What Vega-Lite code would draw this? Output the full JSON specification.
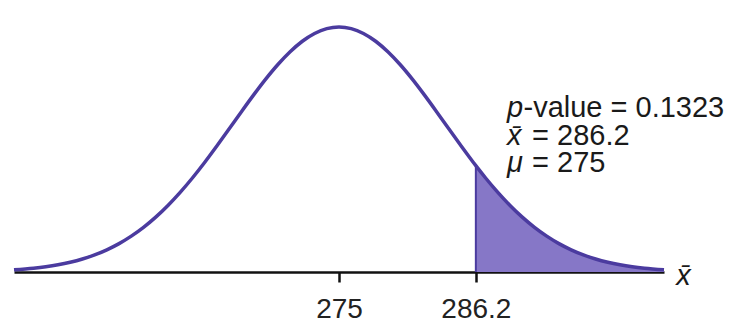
{
  "$schema": "https://vega.github.io/schema/vega-lite/v6.json",
  "width": 650,
  "height": 272,
  "autosize": {"type": "none"},
  "padding": {"left": 14, "top": 0, "right": 66, "bottom": 55},
  "background": "white",
  "config": {"view": {"stroke": null}, "font": "Liberation Sans"},
  "datasets": {
    "curve": [
      {"x": 248.4, "y": 0.00903}, {"x": 250, "y": 0.01566}, {"x": 251, "y": 0.02169}, {"x": 252, "y": 0.02964},
      {"x": 253, "y": 0.03997}, {"x": 254, "y": 0.05322}, {"x": 255, "y": 0.0699}, {"x": 256, "y": 0.0906},
      {"x": 257, "y": 0.1159}, {"x": 258, "y": 0.1463}, {"x": 259, "y": 0.1821}, {"x": 260, "y": 0.2238},
      {"x": 261, "y": 0.2715}, {"x": 262, "y": 0.325}, {"x": 263, "y": 0.3837}, {"x": 264, "y": 0.4471},
      {"x": 265, "y": 0.5143}, {"x": 266, "y": 0.5834}, {"x": 267, "y": 0.6533}, {"x": 268, "y": 0.7218},
      {"x": 269, "y": 0.7871}, {"x": 270, "y": 0.8468}, {"x": 271, "y": 0.899}, {"x": 272, "y": 0.9419},
      {"x": 273, "y": 0.9737}, {"x": 274, "y": 0.9934}, {"x": 275, "y": 1.0}, {"x": 276, "y": 0.9934},
      {"x": 277, "y": 0.9737}, {"x": 278, "y": 0.9419}, {"x": 279, "y": 0.899}, {"x": 280, "y": 0.8468},
      {"x": 281, "y": 0.7871}, {"x": 282, "y": 0.7218}, {"x": 283, "y": 0.6533}, {"x": 284, "y": 0.5834},
      {"x": 285, "y": 0.5143}, {"x": 286, "y": 0.4471}, {"x": 286.2, "y": 0.4341}, {"x": 287, "y": 0.3837},
      {"x": 288, "y": 0.325}, {"x": 289, "y": 0.2715}, {"x": 290, "y": 0.2238}, {"x": 291, "y": 0.1821},
      {"x": 292, "y": 0.1463}, {"x": 293, "y": 0.1159}, {"x": 294, "y": 0.0906}, {"x": 295, "y": 0.0699},
      {"x": 296, "y": 0.05322}, {"x": 297, "y": 0.03997}, {"x": 298, "y": 0.02964}, {"x": 299, "y": 0.02169},
      {"x": 300, "y": 0.01566}, {"x": 301.6, "y": 0.00903}
    ],
    "labels": [
      {"x": 288.75, "y": 0.633, "text": "p", "style": "italic"},
      {"x": 290.1, "y": 0.633, "text": "-value = 0.1323", "style": "normal"},
      {"x": 288.75, "y": 0.518, "text": "x̄", "style": "italic"},
      {"x": 290.8, "y": 0.518, "text": "= 286.2", "style": "normal"},
      {"x": 288.75, "y": 0.408, "text": "μ", "style": "italic"},
      {"x": 290.8, "y": 0.408, "text": "= 275", "style": "normal"},
      {"x": 302.6, "y": -0.053, "text": "x̄", "style": "italic"}
    ]
  },
  "layer": [
    {
      "data": {"name": "curve"},
      "transform": [{"filter": "datum.x >= 286.2"}],
      "mark": {"type": "area", "color": "#8677c7", "opacity": 1},
      "encoding": {
        "x": {"field": "x", "type": "quantitative", "scale": {"domain": [248.4, 301.6], "nice": false, "zero": false},
          "axis": {"values": [275, 286.2], "title": null, "grid": false, "domain": true, "domainColor": "#111", "domainWidth": 2.5,
            "tickColor": "#111", "tickWidth": 2.5, "tickSize": 10, "labelFontSize": 28, "labelColor": "#222", "labelPadding": 13,
            "labelFont": "Liberation Sans", "format": ".1~f"}},
        "y": {"field": "y", "type": "quantitative", "scale": {"domain": [0, 1.1102], "nice": false}, "axis": null}
      }
    },
    {
      "data": {"values": [{"x": 286.2, "y0": 0, "y": 0.4341}]},
      "mark": {"type": "rule", "color": "#4b3b9f", "strokeWidth": 2},
      "encoding": {
        "x": {"field": "x", "type": "quantitative"},
        "y": {"field": "y0", "type": "quantitative"},
        "y2": {"field": "y"}
      }
    },
    {
      "data": {"name": "curve"},
      "mark": {"type": "line", "color": "#4b3b9f", "strokeWidth": 3.5, "interpolate": "monotone"},
      "encoding": {
        "x": {"field": "x", "type": "quantitative"},
        "y": {"field": "y", "type": "quantitative"}
      }
    },
    {
      "data": {"name": "labels"},
      "transform": [{"filter": "datum.style == 'normal'"}],
      "mark": {"type": "text", "align": "left", "baseline": "alphabetic", "fontSize": 29, "color": "#1a1a1a", "font": "Liberation Sans"},
      "encoding": {
        "x": {"field": "x", "type": "quantitative"},
        "y": {"field": "y", "type": "quantitative"},
        "text": {"field": "text"}
      }
    },
    {
      "data": {"name": "labels"},
      "transform": [{"filter": "datum.style == 'italic'"}],
      "mark": {"type": "text", "align": "left", "baseline": "alphabetic", "fontSize": 29, "fontStyle": "italic", "color": "#1a1a1a", "font": "Liberation Sans"},
      "encoding": {
        "x": {"field": "x", "type": "quantitative"},
        "y": {"field": "y", "type": "quantitative"},
        "text": {"field": "text"}
      }
    }
  ]
}
